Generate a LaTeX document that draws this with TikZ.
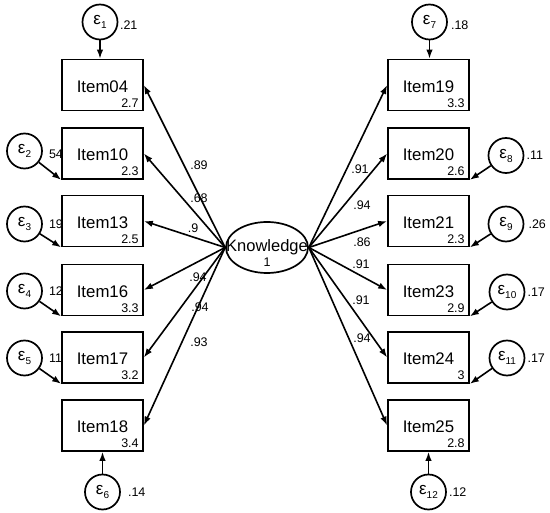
\documentclass[tikz,border=0pt]{standalone}
\usepackage{fontspec}
\setmainfont{Liberation Sans}
\usepackage{tikz}
\usetikzlibrary{shapes.geometric, arrows.meta, positioning, calc}
\newcommand{\errlbl}[1]{ε\raisebox{-4pt}{\fontsize{10}{10}\selectfont #1}}
\tikzset{
  item/.style={rectangle, draw, line width=1.7pt,
    minimum width=81pt, minimum height=51pt, inner sep=0pt,
    text height=15pt, text depth=0pt, font=\fontsize{16.8}{18}\selectfont},
  latent/.style={ellipse, draw, line width=1.7pt,
    minimum width=82pt, minimum height=51pt, inner sep=0pt},
  errnode/.style={circle, draw, line width=1.7pt,
    minimum size=35pt, inner sep=0pt, font=\fontsize{17}{18}\selectfont},
  mean/.style={anchor=south east, inner sep=0pt, font=\fontsize{12.5}{14}\selectfont},
  coef/.style={inner sep=0pt, font=\fontsize{12.5}{14}\selectfont},
  varlab/.style={inner sep=0pt, font=\fontsize{12.5}{14}\selectfont},
  loadarrow/.style={-{Latex[length=9pt,width=6.5pt]}, line width=1.6pt},
  errarrow/.style={-{Latex[length=9pt,width=6.5pt]}, line width=1.6pt}
}

\begin{document}
\begin{tikzpicture}[x=1pt, y=-1pt]
  \useasboundingbox (0,0) rectangle (550,513);
  % latent factor
  \node[latent] (know) at (267,247.5) {};
  \node[inner sep=0pt, font=\fontsize{16.5}{18}\selectfont] (knowtxt) at (know.center) {Knowledge};
  \node[coef] (knowvar) at (267,262.5) {1};
  % left indicators
  \node[item] (i04) at (102.5,85)    {Item04};
  \node[item] (i10) at (102.5,153.5) {Item10};
  \node[item] (i13) at (102.5,221)   {Item13};
  \node[item] (i16) at (102.5,290)   {Item16};
  \node[item] (i17) at (102.5,357.5) {Item17};
  \node[item] (i18) at (102.5,425.5) {Item18};
  % right indicators
  \node[item] (i19) at (428.5,85)    {Item19};
  \node[item] (i20) at (428.5,153.5) {Item20};
  \node[item] (i21) at (428.5,221)   {Item21};
  \node[item] (i23) at (428.5,290)   {Item23};
  \node[item] (i24) at (428.5,357.5) {Item24};
  \node[item] (i25) at (428.5,425.5) {Item25};
  % intercepts
  \node[mean] (m04) at ($(i04.south east)+(-5,-4)$) {2.7};
  \node[mean] (m10) at ($(i10.south east)+(-5,-4)$) {2.3};
  \node[mean] (m13) at ($(i13.south east)+(-5,-4)$) {2.5};
  \node[mean] (m16) at ($(i16.south east)+(-5,-4)$) {3.3};
  \node[mean] (m17) at ($(i17.south east)+(-5,-4)$) {3.2};
  \node[mean] (m18) at ($(i18.south east)+(-5,-4)$) {3.4};
  \node[mean] (m19) at ($(i19.south east)+(-5,-4)$) {3.3};
  \node[mean] (m20) at ($(i20.south east)+(-5,-4)$) {2.6};
  \node[mean] (m21) at ($(i21.south east)+(-5,-4)$) {2.3};
  \node[mean] (m23) at ($(i23.south east)+(-5,-4)$) {2.9};
  \node[mean] (m24) at ($(i24.south east)+(-5,-4)$) {3};
  \node[mean] (m25) at ($(i25.south east)+(-5,-4)$) {2.8};
  % error terms
  \node[errnode] (e1)  at (100,22)    {\errlbl{1}};
  \node[errnode] (e2)  at (24.5,151)  {\errlbl{2}};
  \node[errnode] (e3)  at (24.5,224)  {\errlbl{3}};
  \node[errnode] (e4)  at (24.5,291)  {\errlbl{4}};
  \node[errnode] (e5)  at (24.5,358)  {\errlbl{5}};
  \node[errnode] (e6)  at (102.5,492) {\errlbl{6}};
  \node[errnode] (e7)  at (429.5,22)  {\errlbl{7}};
  \node[errnode] (e8)  at (506,155.5) {\errlbl{8}};
  \node[errnode] (e9)  at (506,224)   {\errlbl{9}};
  \node[errnode] (e10) at (507,292)   {\errlbl{10}};
  \node[errnode] (e11) at (507,358)   {\errlbl{11}};
  \node[errnode] (e12) at (428.5,492) {\errlbl{12}};
  % error variances
  \node[varlab, right=1.5pt of e1, yshift=-3.5pt] (v1) {.21};
  \node[varlab, right=6pt of e2, yshift=-3pt] (v2) {54};
  \node[varlab, right=6pt of e3] (v3) {19};
  \node[varlab, right=6pt of e4] (v4) {12};
  \node[varlab, right=6pt of e5] (v5) {11};
  \node[varlab, right=7pt of e6] (v6) {.14};
  \node[varlab, right=3pt of e7, yshift=-3.5pt] (v7) {.18};
  \node[varlab, right=2pt of e8] (v8) {.11};
  \node[varlab, right=4pt of e9] (v9) {.26};
  \node[varlab, right=2pt of e10] (v10) {.17};
  \node[varlab, right=2pt of e11] (v11) {.17};
  \node[varlab, right=2pt of e12] (v12) {.12};
  % factor loadings
  \draw[loadarrow] (know.west) -- (i04.east);
  \draw[loadarrow] (know.west) -- (i10.east);
  \draw[loadarrow] (know.west) -- (i13.east);
  \draw[loadarrow] (know.west) -- (i16.east);
  \draw[loadarrow] (know.west) -- (i17.east);
  \draw[loadarrow] (know.west) -- (i18.east);
  \draw[loadarrow] (know.east) -- (i19.west);
  \draw[loadarrow] (know.east) -- (i20.west);
  \draw[loadarrow] (know.east) -- (i21.west);
  \draw[loadarrow] (know.east) -- (i23.west);
  \draw[loadarrow] (know.east) -- (i24.west);
  \draw[loadarrow] (know.east) -- (i25.west);
  % loading values
  \node[coef] (c04) at (199,165) {.89};
  \node[coef] (c10) at (199,198) {.68};
  \node[coef] (c13) at (193,228) {.9};
  \node[coef] (c16) at (198,277) {.94};
  \node[coef] (c17) at (200,307) {.94};
  \node[coef] (c18) at (199,342) {.93};
  \node[coef] (c19) at (360,169) {.91};
  \node[coef] (c20) at (362,205) {.94};
  \node[coef] (c21) at (362,242) {.86};
  \node[coef] (c23) at (361,264) {.91};
  \node[coef] (c24) at (361,300) {.91};
  \node[coef] (c25) at (362,338) {.94};
  % error paths
  \draw[errarrow] (e1) -- (e1 |- i04.north);
  \draw[errarrow] (e2) -- (i10.south west);
  \draw[errarrow] (e3) -- (i13.south west);
  \draw[errarrow] (e4) -- (i16.south west);
  \draw[errarrow] (e5) -- (i17.south west);
  \draw[errarrow] (e6) -- (i18.south);
  \draw[errarrow] (e7) -- (e7 |- i19.north);
  \draw[errarrow] (e8) -- (i20.south east);
  \draw[errarrow] (e9) -- (i21.south east);
  \draw[errarrow] (e10) -- (i23.south east);
  \draw[errarrow] (e11) -- (i24.south east);
  \draw[errarrow] (e12) -- (i25.south);
\end{tikzpicture}
\end{document}
